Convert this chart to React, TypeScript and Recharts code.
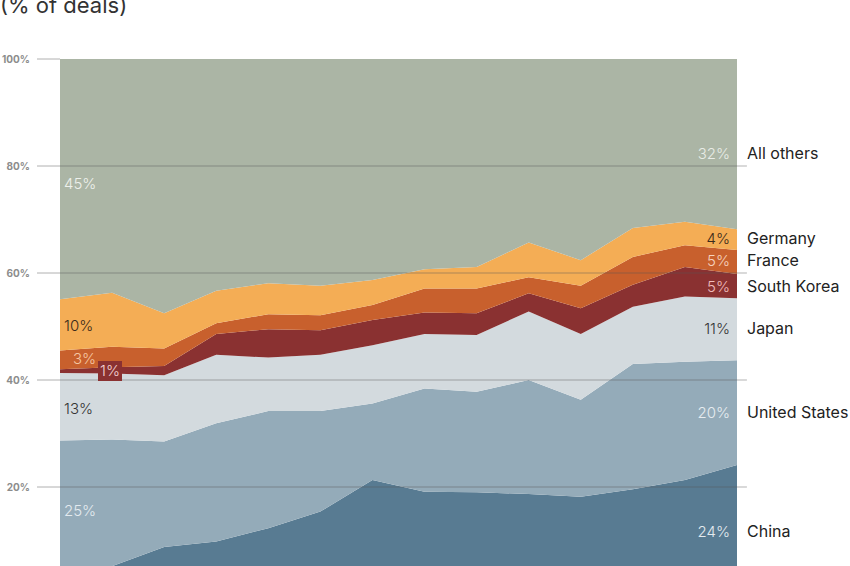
import { AreaChart, Area, XAxis, YAxis, ReferenceLine } from 'recharts'

// 14 periods, shares of deals in %
const PERIODS = ['1', '2', '3', '4', '5', '6', '7', '8', '9', '10', '11', '12', '13', '14']
const CHINA = [3.5, 5.2, 8.8, 9.8, 12.3, 15.4, 21.3, 19.1, 19.0, 18.7, 18.2, 19.6, 21.3, 24.1]
const US = [25.2, 23.7, 19.7, 22.1, 21.9, 18.8, 14.3, 19.3, 18.8, 21.3, 18.1, 23.4, 22.1, 19.6]
const JAPAN = [12.6, 12.3, 12.4, 12.8, 10.0, 10.5, 10.9, 10.2, 10.6, 12.8, 12.3, 10.7, 12.2, 11.6]
const SOUTH_KOREA = [0.7, 1.2, 1.7, 3.9, 5.3, 4.6, 4.7, 4.0, 4.1, 3.4, 4.8, 4.1, 5.5, 4.5]
const FRANCE = [3.5, 3.8, 3.3, 2.0, 2.8, 2.8, 2.8, 4.5, 4.6, 3.0, 4.2, 5.2, 4.1, 4.5]
const GERMANY = [9.6, 10.1, 6.6, 6.1, 5.8, 5.5, 4.7, 3.6, 4.0, 6.5, 4.8, 5.4, 4.4, 3.9]
const OTHERS = [44.9, 43.7, 47.5, 43.3, 41.9, 42.4, 41.3, 39.3, 38.9, 34.3, 37.6, 31.6, 30.4, 31.8]

const Y_TICKS = [20, 40, 60, 80, 100]

const data = PERIODS.map((p, i) => ({
  idx: i,
  period: p,
  china: CHINA[i],
  us: US[i],
  japan: JAPAN[i],
  korea: SOUTH_KOREA[i],
  france: FRANCE[i],
  germany: GERMANY[i],
  others: OTHERS[i],
}))

const SERIES = [
  { key: 'china', color: '#587b92' },
  { key: 'us', color: '#94abb9' },
  { key: 'japan', color: '#d3dade' },
  { key: 'korea', color: '#8a3131' },
  { key: 'france', color: '#c8602d' },
  { key: 'germany', color: '#f4ad55' },
  { key: 'others', color: '#abb5a5' },
]

const FONT = 'Inter, "Noto Sans", sans-serif'

const valueLabel = (text: string, x: number, y: number, color: string, align: 'left' | 'right' = 'left') => (
  <div
    key={text + x + y}
    style={{
      position: 'absolute',
      top: y,
      ...(align === 'left' ? { left: x } : { right: 850 - x }),
      transform: 'translateY(-50%)',
      fontSize: 15,
      fontWeight: 300,
      color,
      lineHeight: 1,
    }}
  >
    {text}
  </div>
)

const NAMES = [
  { name: 'All others', y: 153 },
  { name: 'Germany', y: 238 },
  { name: 'France', y: 260 },
  { name: 'South Korea', y: 286 },
  { name: 'Japan', y: 328 },
  { name: 'United States', y: 412 },
  { name: 'China', y: 531 },
]

export default function App() {
  return (
    <div
      style={{
        position: 'fixed',
        left: 0,
        top: 0,
        width: 850,
        height: 566,
        overflow: 'hidden',
        background: '#fff',
        fontFamily: FONT,
      }}
    >
      <div style={{ position: 'absolute', left: 0, top: -7, fontSize: 22, color: '#333', lineHeight: '24px' }}>
        (% of deals)
      </div>
      <div style={{ position: 'absolute', left: 0, top: 0 }}>
        <AreaChart width={850} height={600} data={data} margin={{ top: 59, right: 113, bottom: 6, left: 0 }}>
          <XAxis dataKey="idx" type="number" domain={[0, 13]} hide />
          <YAxis
            width={60}
            domain={[0, 100]}
            ticks={Y_TICKS}
            tickFormatter={(v) => `${v}%`}
            axisLine={false}
            tickSize={23}
            tickMargin={7}
            tickLine={{ stroke: '#b0b0b0' }}
            tick={{ fontSize: 10, fontWeight: 700, fill: '#8c8c8c', fontFamily: FONT }}
          />
          {SERIES.map((s) => (
            <Area
              key={s.key}
              dataKey={s.key}
              stackId="1"
              type="linear"
              fill={s.color}
              fillOpacity={1}
              stroke="none"
              isAnimationActive={false}
            />
          ))}
          {[20, 40, 60, 80].map((v) => (
            <ReferenceLine
              key={v}
              segment={[{ x: 0, y: v }, { x: 13.19, y: v }]}
              ifOverflow="visible"
              stroke="#555"
              strokeOpacity={0.45}
              strokeWidth={1}
            />
          ))}
        </AreaChart>
      </div>

      {/* left-hand values */}
      {valueLabel('45%', 64, 183, '#eef1ec')}
      {valueLabel('10%', 64, 325, '#3a2a1a')}
      {valueLabel('3%', 73, 358, '#f6c7a3')}
      <div
        style={{
          position: 'absolute',
          left: 98,
          top: 361,
          width: 24,
          height: 20,
          background: '#8a3131',
          color: '#f3d2d2',
          fontSize: 15,
          fontWeight: 300,
          lineHeight: '20px',
          textAlign: 'center',
        }}
      >
        1%
      </div>
      {valueLabel('13%', 64, 408, '#333')}
      {valueLabel('25%', 64, 510, '#e3eaef')}

      {/* right-hand values */}
      {valueLabel('32%', 730, 153, '#e8ece6', 'right')}
      {valueLabel('4%', 730, 238, '#3a2a1a', 'right')}
      {valueLabel('5%', 730, 260, '#f6d2bd', 'right')}
      {valueLabel('5%', 730, 286, '#f0bcbc', 'right')}
      {valueLabel('11%', 730, 328, '#333', 'right')}
      {valueLabel('20%', 730, 412, '#e6ecf0', 'right')}
      {valueLabel('24%', 730, 531, '#e3eaef', 'right')}

      {NAMES.map((n) => (
        <div
          key={n.name}
          style={{
            position: 'absolute',
            left: 747,
            top: n.y,
            transform: 'translateY(-50%)',
            fontSize: 16,
            color: '#222',
            whiteSpace: 'nowrap',
            lineHeight: 1,
          }}
        >
          {n.name}
        </div>
      ))}
    </div>
  )
}
